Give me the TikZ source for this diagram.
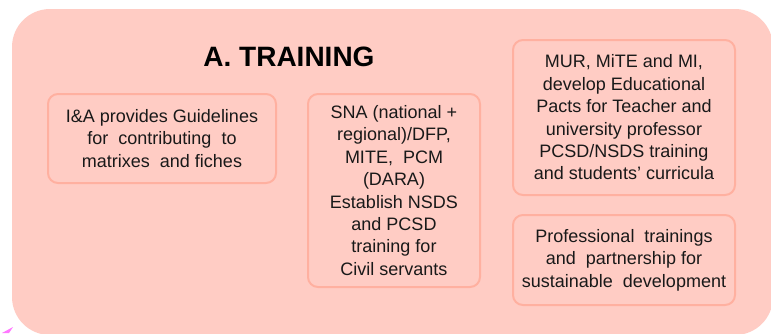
\documentclass[tikz,border=0pt]{standalone}
\usepackage{fontspec}
\setmainfont{Liberation Sans}
\definecolor{panelfill}{RGB}{255,204,196}
\definecolor{boxline}{RGB}{255,176,160}
\definecolor{arrowpink}{RGB}{255,120,255}
\begin{document}
\begin{tikzpicture}[x=1pt,y=-1pt,
  taskbox/.style={draw=boxline,line width=2pt,fill=panelfill,rounded corners=10pt,
    align=center,inner sep=0pt,font=\fontsize{18}{22.4}\selectfont,text=black!90}]
\useasboundingbox (0,0) rectangle (771,333);
\fill [panelfill,rounded corners=38pt] (12,9) rectangle (773,335);
\fill [arrowpink] (2,333) -- (13,327) -- (9,333) -- cycle;
\node [font=\bfseries\fontsize{28}{30}\selectfont] (title) at (289,57) {A. TRAINING};
\node [taskbox,minimum width=228pt,minimum height=89pt] (guide) at (162,138.5)
  {I\&A provides Guidelines\\for\ \ contributing\ \ to\\matrixes\ \ and fiches};
\node [taskbox,minimum width=172pt,minimum height=193pt] (civil) at (394,190.5)
  {SNA (national +\\regional)/DFP,\\MITE,\ \ PCM\\(DARA)\\Establish NSDS\\and PCSD\\training for\\Civil servants};
\node [taskbox,minimum width=222pt,minimum height=155pt] (pacts) at (624,117.5)
  {MUR, MiTE and MI,\\develop Educational\\Pacts for Teacher and\\university professor\\PCSD/NSDS training\\and students' curricula};
\node [taskbox,minimum width=222pt,minimum height=90pt] (prof) at (624,260)
  {Professional\ \ trainings\\and\ \ partnership for\\sustainable\ \ development};
\end{tikzpicture}
\end{document}
